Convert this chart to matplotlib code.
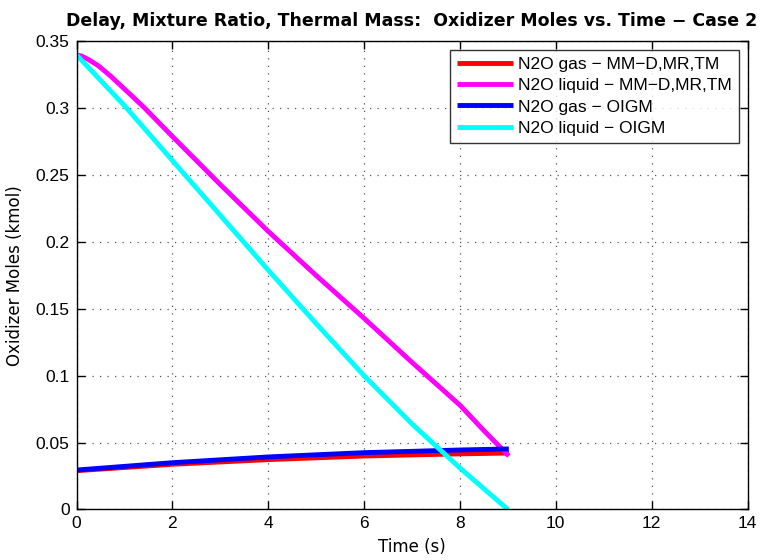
import matplotlib
matplotlib.use('Agg')
import matplotlib.pyplot as plt

# values
t_mm_liq = [0, 0.1, 0.25, 0.45, 0.7, 1.0, 1.4, 2, 3, 4, 5, 6, 7, 8, 8.5, 9.02]
n_mm_liq = [0.340, 0.3392, 0.3365, 0.332, 0.3245, 0.3145, 0.301, 0.279,
            0.243, 0.208, 0.175, 0.143, 0.110, 0.078, 0.059, 0.040]

t_oigm_liq = [0, 1, 2, 3, 4, 5, 6, 7, 8, 9]
n_oigm_liq = [0.340, 0.302, 0.261, 0.220, 0.179, 0.139, 0.100, 0.064,
              0.031, 0.0]

t_gas = [0, 2, 4, 6, 8, 9.02]
n_mm_gas = [0.029, 0.0338, 0.0373, 0.0400, 0.0416, 0.0422]
n_oigm_gas = [0.0295, 0.0350, 0.0393, 0.0425, 0.0445, 0.0453]

series = [
    ('N2O gas \u2212 MM\u2212D,MR,TM', t_gas, n_mm_gas, '#ff0000'),
    ('N2O liquid \u2212 MM\u2212D,MR,TM', t_mm_liq, n_mm_liq, '#ff00ff'),
    ('N2O gas \u2212 OIGM', t_gas, n_oigm_gas, '#0000ff'),
    ('N2O liquid \u2212 OIGM', t_oigm_liq, n_oigm_liq, '#00ffff'),
]

plt.rcParams['font.family'] = ['Liberation Sans', 'DejaVu Sans']

fig = plt.figure(figsize=(7.72, 5.6), dpi=100)
ax = fig.add_axes([0.0991, 0.0902, 0.8692, 0.8357])

# draw in MATLAB order: later series on top of earlier ones
for label, t, n, color in series:
    ax.plot(t, n, color=color, lw=3.5, label=label, solid_capstyle='butt')

ax.set_xlim(0, 14)
ax.set_ylim(0, 0.35)
xticks = list(range(0, 15, 2))
yticks = [0, 0.05, 0.1, 0.15, 0.2, 0.25, 0.3, 0.35]
ax.set_xticks(xticks)
ax.set_xticklabels([str(x) for x in xticks])
ax.set_yticks(yticks)
ax.set_yticklabels(['%g' % y for y in yticks])
ax.tick_params(direction='in', length=6, width=1, labelsize=12.5,
               top=True, right=True, pad=5)
for s in ax.spines.values():
    s.set_linewidth(1.0)

ax.grid(True, linestyle=(0, (1, 5)), color='#555555', linewidth=0.9)
ax.set_axisbelow(True)

lbl_font = dict(family=['DejaVu Sans'], fontsize=12)
ax.set_xlabel('Time (s)', labelpad=5, **lbl_font)
ax.set_ylabel('Oxidizer Moles (kmol)', labelpad=8, **lbl_font)
ax.set_title('Delay, Mixture Ratio, Thermal Mass:  Oxidizer Moles vs. Time \u2212 Case 2',
             family=['DejaVu Sans'], fontsize=12.5, fontweight='bold', pad=11)

leg = ax.legend(loc='upper right', fontsize=12.5, frameon=True, fancybox=False,
                edgecolor='black', handlelength=3.2, handletextpad=0.32,
                borderpad=0.4, labelspacing=0.35, borderaxespad=0.49)
leg.get_frame().set_linewidth(1.0)

fig.savefig('out.png', dpi=100)
